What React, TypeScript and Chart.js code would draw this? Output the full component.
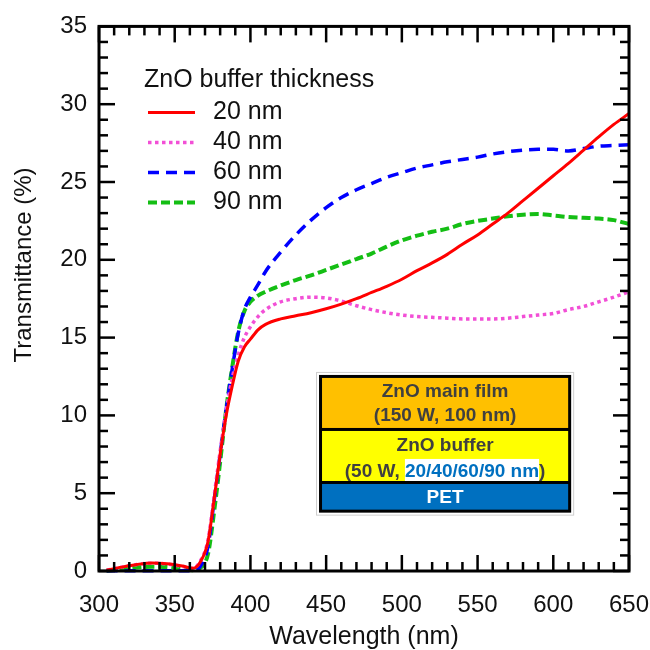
import React, { useEffect, useRef } from "react";
import { Chart, registerables } from "chart.js";

Chart.register(...registerables);

// ---- data ----
const WAVELENGTH = [
  305, 315, 325, 335, 345, 355, 362, 367, 372, 376, 380, 384, 388, 392, 396, 400,
  405, 410, 420, 430, 440, 450, 460, 470, 480, 490, 500, 510, 520, 530, 540, 550,
  560, 570, 580, 590, 600, 610, 620, 630, 640, 650,
];
const T_20NM = [
  0.05, 0.25, 0.42, 0.52, 0.47, 0.32, 0.18, 0.6, 1.9, 4.6, 7.5, 10.0, 11.9, 13.5, 14.4, 14.9,
  15.5, 15.85, 16.2, 16.4, 16.6, 16.85, 17.15, 17.5, 17.9, 18.3, 18.75, 19.3, 19.8, 20.35, 21.0, 21.6,
  22.3, 23.0, 23.8, 24.6, 25.4, 26.2, 27.05, 27.9, 28.7, 29.4,
];
const T_40NM = [
  0.05, 0.25, 0.42, 0.5, 0.45, 0.3, 0.18, 0.65, 2.0, 4.8, 7.7, 10.3, 12.4, 13.9, 15.0, 15.7,
  16.35, 16.8, 17.3, 17.5, 17.6, 17.55, 17.35, 17.05, 16.8, 16.6, 16.45, 16.35, 16.3, 16.25, 16.2, 16.2,
  16.2, 16.25, 16.35, 16.45, 16.55, 16.8, 17.0, 17.3, 17.6, 17.95,
];
const T_60NM = [
  0.02, 0.02, 0.02, 0.02, 0.02, 0.02, 0.02, 0.3, 1.6, 4.5, 7.5, 10.4, 13.0, 15.3, 16.8, 17.6,
  18.4, 19.25, 20.5, 21.6, 22.55, 23.35, 24.0, 24.5, 24.9, 25.3, 25.6, 25.9, 26.1, 26.3, 26.45, 26.6,
  26.8, 26.95, 27.05, 27.1, 27.1, 27.0, 27.15, 27.3, 27.35, 27.4,
];
const T_90NM = [
  0.02, 0.12, 0.22, 0.28, 0.25, 0.15, 0.05, 0.2, 1.1, 3.8, 7.0, 10.4, 13.1, 15.4, 16.7, 17.3,
  17.7, 17.95, 18.35, 18.7, 19.0, 19.35, 19.7, 20.05, 20.4, 20.85, 21.25, 21.55, 21.8, 22.0, 22.3, 22.5,
  22.65, 22.8, 22.9, 22.95, 22.85, 22.75, 22.7, 22.65, 22.55, 22.3,
];
const SERIES_LABELS = ["20 nm", "40 nm", "60 nm", "90 nm"];
const LEGEND_TITLE = "ZnO buffer thickness";
const X_TITLE = "Wavelength (nm)";
const Y_TITLE = "Transmittance (%)";
const INSET_LINES = ["ZnO main film", "(150 W, 100 nm)", "ZnO buffer"];
const INSET_BUFFER_PRE = "(50 W, ";
const INSET_BUFFER_HIGHLIGHT = "20/40/60/90 nm";
const INSET_BUFFER_POST = ")";
const INSET_PET = "PET";

const FONT = '"Liberation Sans", Arial, Helvetica, sans-serif';

const toPoints = (vals: number[]) => WAVELENGTH.map((x, i) => ({ x, y: vals[i] }));

const decorPlugin = {
  id: "decor",
  afterDatasetsDraw(chart: any) {
    const ctx = chart.ctx as CanvasRenderingContext2D;
    const { left, right, top, bottom } = chart.chartArea;
    const xs = chart.scales.x;
    const ys = chart.scales.y;
    ctx.save();
    // inward ticks
    ctx.strokeStyle = "#000";
    ctx.lineWidth = 2.5;
    ctx.lineCap = "butt";
    const seg = (x1: number, y1: number, x2: number, y2: number) => {
      ctx.beginPath();
      ctx.moveTo(x1, y1);
      ctx.lineTo(x2, y2);
      ctx.stroke();
    };
    for (let v = 300; v <= 650; v += 10) {
      const px = xs.getPixelForValue(v);
      const len = v % 50 === 0 ? 16 : 9;
      seg(px, bottom, px, bottom - len);
      seg(px, top, px, top + len);
    }
    for (let v = 0; v <= 35; v += 1) {
      const py = ys.getPixelForValue(v);
      const len = v % 5 === 0 ? 16 : 9;
      seg(left, py, left + len, py);
      seg(right, py, right - len, py);
    }
    ctx.lineWidth = 3;
    ctx.strokeRect(left, top, right - left, bottom - top);

    // legend
    ctx.fillStyle = "#111";
    ctx.font = `25px ${FONT}`;
    ctx.textBaseline = "middle";
    ctx.textAlign = "left";
    ctx.fillText(LEGEND_TITLE, left + 45, top + 54);
    chart.data.datasets.forEach((ds: any, i: number) => {
      const y = top + 86 + i * 30;
      ctx.save();
      ctx.strokeStyle = ds.borderColor;
      ctx.lineWidth = ds.borderWidth;
      ctx.setLineDash(ds.borderDash || []);
      ctx.lineCap = "butt";
      seg(left + 49, y, left + 96, y);
      ctx.restore();
      ctx.fillText(ds.label, left + 114, y);
    });

    // axis titles
    ctx.font = `24px ${FONT}`;
    ctx.textAlign = "center";
    ctx.save();
    ctx.translate(24, 265);
    ctx.rotate(-Math.PI / 2);
    ctx.fillText(Y_TITLE, 0, 0);
    ctx.restore();
    ctx.font = `25px ${FONT}`;
    ctx.fillText(X_TITLE, (left + right) / 2, 637);

    // inset layer diagram (data-space anchor)
    const x0 = xs.getPixelForValue(445.3);
    const x1 = xs.getPixelForValue(611.8);
    const y0 = ys.getPixelForValue(12.6);
    const y1 = ys.getPixelForValue(3.75);
    ctx.strokeStyle = "#cfcfcf";
    ctx.lineWidth = 1;
    ctx.strokeRect(x0 - 2.5, y0 - 2.5, x1 - x0 + 5, y1 - y0 + 5);
    ctx.fillStyle = "#000";
    ctx.fillRect(x0, y0, x1 - x0, y1 - y0);
    const ix0 = x0 + 3;
    const iw = x1 - x0 - 6;
    const h = y1 - y0;
    const orangeTop = y0 + 3;
    const orangeBot = y0 + h * 0.385;
    const yellowTop = orangeBot + 3;
    const yellowBot = y0 + h * 0.77;
    const blueTop = yellowBot + 3;
    const blueBot = y1 - 3;
    ctx.fillStyle = "#FFC000";
    ctx.fillRect(ix0, orangeTop, iw, orangeBot - orangeTop);
    ctx.fillStyle = "#FFFF00";
    ctx.fillRect(ix0, yellowTop, iw, yellowBot - yellowTop);
    ctx.fillStyle = "#0070C0";
    ctx.fillRect(ix0, blueTop, iw, blueBot - blueTop);

    const cx = (x0 + x1) / 2;
    ctx.font = `bold 19px ${FONT}`;
    ctx.textAlign = "center";
    ctx.fillStyle = "#404040";
    ctx.fillText(INSET_LINES[0], cx, y0 + 17);
    ctx.fillText(INSET_LINES[1], cx, y0 + 41);
    ctx.fillText(INSET_LINES[2], cx, y0 + 71);
    // mixed line
    const wPre = ctx.measureText(INSET_BUFFER_PRE).width;
    const wHi = ctx.measureText(INSET_BUFFER_HIGHLIGHT).width;
    const wPost = ctx.measureText(INSET_BUFFER_POST).width;
    const total = wPre + wHi + wPost;
    let tx = cx - total / 2;
    const ty = y0 + 97;
    ctx.textAlign = "left";
    ctx.fillText(INSET_BUFFER_PRE, tx, ty);
    tx += wPre;
    ctx.fillStyle = "#ffffff";
    ctx.fillRect(tx, ty - 13, wHi, yellowBot - (ty - 13));
    ctx.fillStyle = "#0070C0";
    ctx.fillText(INSET_BUFFER_HIGHLIGHT, tx, ty);
    tx += wHi;
    ctx.fillStyle = "#404040";
    ctx.fillText(INSET_BUFFER_POST, tx, ty);
    ctx.textAlign = "center";
    ctx.fillStyle = "#ffffff";
    ctx.fillText(INSET_PET, cx, (blueTop + blueBot) / 2 + 1);
    ctx.restore();
  },
};

export default function App() {
  const ref = useRef<HTMLCanvasElement>(null);
  useEffect(() => {
    if (!ref.current) return;
    const common = {
      fill: false,
      pointRadius: 0,
      cubicInterpolationMode: "monotone" as const,
      borderCapStyle: "butt" as const,
      clip: 4,
    };
    const chart = new Chart(ref.current, {
      type: "line",
      data: {
        datasets: [
          { ...common, label: SERIES_LABELS[0], data: toPoints(T_20NM), borderColor: "#FF0000", borderWidth: 3 },
          { ...common, label: SERIES_LABELS[1], data: toPoints(T_40NM), borderColor: "#F24FD6", borderWidth: 3.5, borderDash: [3.5, 3.5] },
          { ...common, label: SERIES_LABELS[2], data: toPoints(T_60NM), borderColor: "#0000FF", borderWidth: 3.5, borderDash: [11, 7] },
          { ...common, label: SERIES_LABELS[3], data: toPoints(T_90NM), borderColor: "#14BE14", borderWidth: 4, borderDash: [9, 4] },
        ],
      },
      options: {
        responsive: false,
        animation: false,
        layout: { padding: { left: 0, right: 0, top: 21, bottom: 0 } },
        plugins: { legend: { display: false }, tooltip: { enabled: false } },
        scales: {
          x: {
            type: "linear",
            min: 300,
            max: 650,
            grid: { display: false, drawTicks: false },
            border: { display: false },
            ticks: { stepSize: 50, autoSkip: false, maxRotation: 0, padding: 20, color: "#111", font: { family: FONT, size: 24 } },
            afterFit: (s: any) => { s.height = 79; s.paddingRight = 21; s.paddingLeft = 0; },
          },
          y: {
            type: "linear",
            min: 0,
            max: 35,
            grid: { display: false, drawTicks: false },
            border: { display: false },
            ticks: { stepSize: 5, autoSkip: false, padding: 12, color: "#111", font: { family: FONT, size: 24 } },
            afterFit: (s: any) => { s.width = 99; },
          },
        },
      },
      plugins: [decorPlugin],
    });
    return () => chart.destroy();
  }, []);
  return (
    <div style={{ position: "fixed", left: 0, top: 0, width: 650, height: 650, background: "#fff" }}>
      <canvas ref={ref} width={650} height={650} style={{ width: 650, height: 650 }} />
    </div>
  );
}
